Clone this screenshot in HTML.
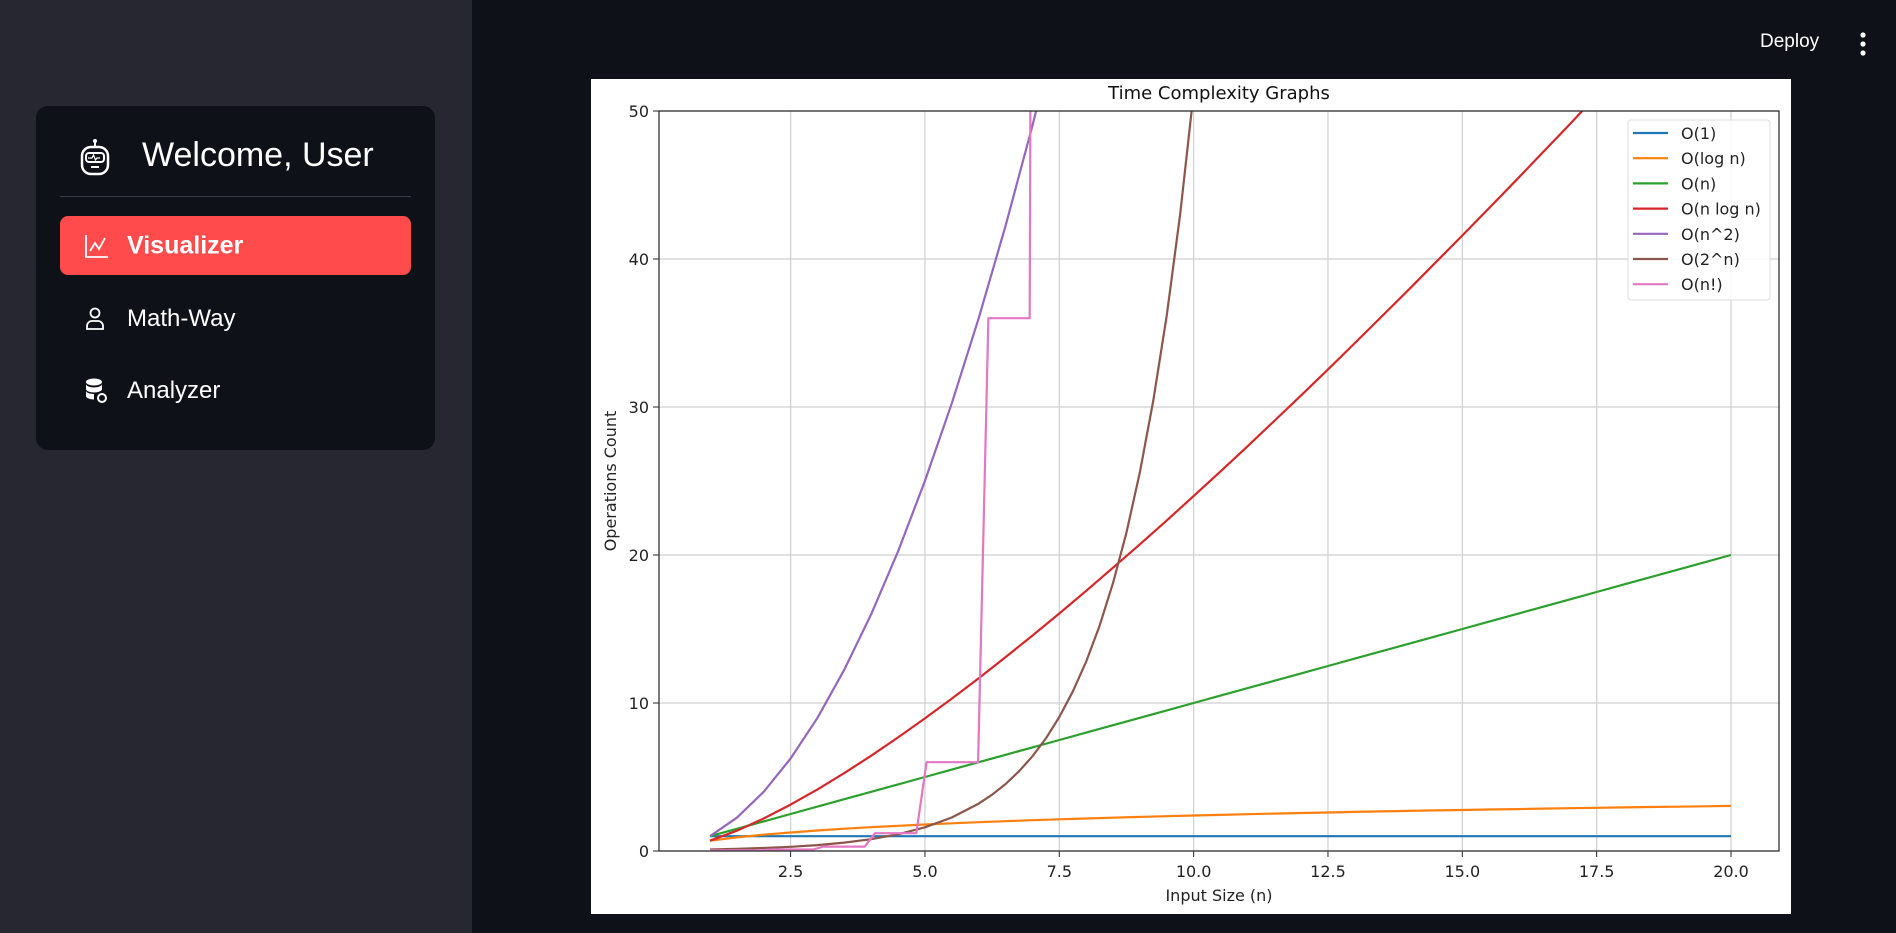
<!DOCTYPE html>
<html><head><meta charset="utf-8">
<style>
html,body{margin:0;padding:0;width:1896px;height:933px;overflow:hidden;background:#0e1118;font-family:"Liberation Sans",sans-serif;}
#sidebar{position:absolute;left:0;top:0;width:472px;height:933px;background:#262730;}
#card{position:absolute;left:36px;top:106px;width:399px;height:344px;background:#0e1118;border-radius:12px;}
.nav{position:absolute;left:24px;width:351px;height:59px;border-radius:8px;color:#fff;}
.nav span{position:absolute;left:67px;top:50%;transform:translateY(-50%);font-size:24px;}
.nav svg{position:absolute;left:24px;top:50%;transform:translateY(-50%);}
#chartbox{position:absolute;left:591px;top:79px;width:1200px;height:835px;background:#fff;}
</style></head><body>
<div id="sidebar">
 <div id="card">
  <svg style="position:absolute;left:42px;top:32px" width="34" height="40" viewBox="0 0 34 40"><circle cx="17" cy="3" r="2" fill="#fff"/><line x1="17" y1="4" x2="17" y2="9" stroke="#fff" stroke-width="2"/><rect x="4" y="9" width="26" height="27" rx="9" fill="none" stroke="#fff" stroke-width="2.5"/><rect x="8" y="15" width="18" height="9" rx="3" fill="none" stroke="#fff" stroke-width="2"/><path d="M10 20h4l1.5-3 2 5 1.5-2h3" stroke="#fff" fill="none" stroke-width="1.2"/><rect x="13" y="28" width="8" height="2" fill="#fff"/></svg>
  <div style="position:absolute;left:106px;top:30px;color:#fff;font-size:34px;">Welcome, User</div>
  <div style="position:absolute;left:24px;top:90px;width:351px;height:1px;background:#3a3b45"></div>
  <div class="nav" style="top:110px;background:#ff4b4b;"><svg width="26" height="26" viewBox="0 0 26 26"><path d="M2 2v22h22" stroke="#fff" fill="none" stroke-width="1.8"/><path d="M6 18l5-8 4 6 6-11" stroke="#fff" fill="none" stroke-width="1.8"/></svg><span style="font-weight:bold;font-size:25px;">Visualizer</span></div>
  <div class="nav" style="top:183px;"><svg width="22" height="24" viewBox="0 0 22 24"><circle cx="11" cy="6" r="4.5" stroke="#fff" fill="none" stroke-width="1.8"/><path d="M3 22v-3a5 5 0 0 1 5-5h6a5 5 0 0 1 5 5v3z" stroke="#fff" fill="none" stroke-width="1.8"/></svg><span>Math-Way</span></div>
  <div class="nav" style="top:255px;"><svg width="24" height="26" viewBox="0 0 24 26"><ellipse cx="10" cy="4" rx="8" ry="3.5" fill="#fff"/><path d="M2 6v5c0 2 4 3.5 8 3.5s8-1.5 8-3.5V6c0 2-4 3.5-8 3.5S2 8 2 6zM2 13v5c0 2 4 3.5 8 3.5V16c-4 0-8-1.5-8-3z" fill="#fff"/><circle cx="18" cy="20" r="4" stroke="#fff" fill="none" stroke-width="2"/></svg><span>Analyzer</span></div>
 </div>
</div>
<div style="position:absolute;left:1760px;top:31px;color:#fff;font-size:19px;">Deploy</div>
<svg style="position:absolute;left:1857px;top:31px" width="12" height="26"><circle cx="6" cy="4" r="2.6" fill="#fff"/><circle cx="6" cy="13" r="2.6" fill="#fff"/><circle cx="6" cy="22" r="2.6" fill="#fff"/></svg>
<div id="chartbox"></div>
<svg id="chart" style="position:absolute;left:0;top:0" width="1896" height="933"></svg>
<script>
const xTicks=[2.5,5.0,7.5,10.0,12.5,15.0,17.5,20.0];
const yTicks=[0,10,20,30,40,50];
const labels=["O(1)","O(log n)","O(n)","O(n log n)","O(n^2)","O(2^n)","O(n!)"];
const colors=["#1f77b4","#ff7f0e","#2ca02c","#d62728","#9467bd","#8c564b","#e377c2"];
const nHalf=[1,1.5,2,2.5,3,3.5,4,4.5,5,5.5,6,6.5,7,7.5,8,8.5,9,9.5,10,10.5,11,11.5,12,12.5,13,13.5,14,14.5,15,15.5,16,16.5,17,17.5,18,18.5,19,19.5,20];
const constY=[1,1,1,1,1,1,1,1,1,1,1,1,1,1,1,1,1,1,1,1,1,1,1,1,1,1,1,1,1,1,1,1,1,1,1,1,1,1,1];
const logY=[.693,.916,1.099,1.253,1.386,1.504,1.609,1.705,1.792,1.872,1.946,2.015,2.079,2.140,2.197,2.251,2.303,2.351,2.398,2.442,2.485,2.526,2.565,2.603,2.639,2.674,2.708,2.741,2.773,2.803,2.833,2.862,2.890,2.918,2.944,2.970,2.996,3.020,3.045];
const linY=[1,1.5,2,2.5,3,3.5,4,4.5,5,5.5,6,6.5,7,7.5,8,8.5,9,9.5,10,10.5,11,11.5,12,12.5,13,13.5,14,14.5,15,15.5,16,16.5,17,17.5,18,18.5,19,19.5,20];
const nlogY=[.693,1.374,2.197,3.133,4.159,5.264,6.438,7.673,8.959,10.296,11.676,13.098,14.556,16.050,17.579,19.140,20.723,22.337,23.979,25.647,27.339,29.053,30.787,32.543,34.320,36.113,37.922,39.749,41.590,43.447,45.316,47.210,49.102,51.058,52.974,54.946,56.949,58.9,60.9];
const sqN=[1,1.5,2,2.5,3,3.5,4,4.5,5,5.5,6,6.5,7,7.5];
const sqY=[1,2.25,4,6.25,9,12.25,16,20.25,25,30.25,36,42.25,49,56.25];
const expN=[1,1.5,2,2.5,3,3.5,4,4.5,5,5.5,6,6.25,6.5,6.75,7,7.25,7.5,7.75,8,8.25,8.5,8.75,9,9.25,9.5,9.75,10,10.25];
const expY=[.1,.141,.2,.283,.4,.566,.8,1.131,1.6,2.263,3.2,3.805,4.525,5.382,6.4,7.611,9.051,10.764,12.8,15.22,18.1,21.53,25.6,30.44,36.2,43.05,51.2,60.9];
const factN=[1,1.96,2.15,2.92,3.11,3.88,4.07,4.84,5.03,5.99,6.18,6.95,7.14];
const factY=[.05,.05,.1,.1,.3,.3,1.2,1.2,6,6,36,36,252];
const seriesX=[nHalf,nHalf,nHalf,nHalf,sqN,expN,factN];
const seriesY=[constY,logY,linY,nlogY,sqY,expY,factY];

const L=659,R=1779,T=111,B=851;
const X=v=>710+(v-1)*(1731-710)/19;
const Y=v=>B-v*(B-T)/50;
const svg=document.getElementById('chart');
const NS='http://www.w3.org/2000/svg';
function mk(tag,attrs,parent){const e=document.createElementNS(NS,tag);for(const k in attrs)e.setAttribute(k,attrs[k]);(parent||svg).appendChild(e);return e;}
const defs=mk('defs',{});
const cp=mk('clipPath',{id:'plotclip'},defs);mk('rect',{x:L,y:T,width:R-L,height:B-T},cp);
xTicks.forEach(t=>{const g=mk('line',{x1:X(t),x2:X(t),y1:T,y2:B,stroke:'#cfcfcf','stroke-width':1.2});


const tk=mk('line',{x1:X(t),x2:X(t),y1:B,y2:B+6,stroke:'#222','stroke-width':1});


const tx=mk('text',{x:X(t),y:B+26,'text-anchor':'middle','font-size':16,fill:'#222','font-family':'DejaVu Sans, sans-serif'});tx.textContent=t.toFixed(1);

});
yTicks.forEach(t=>{const g=mk('line',{x1:L,x2:R,y1:Y(t),y2:Y(t),stroke:'#cfcfcf','stroke-width':1.2});


const tk=mk('line',{x1:L-6,x2:L,y1:Y(t),y2:Y(t),stroke:'#222','stroke-width':1});


const tx=mk('text',{x:L-10,y:Y(t)+6,'text-anchor':'end','font-size':16,fill:'#222','font-family':'DejaVu Sans, sans-serif'});tx.textContent=String(t);

});
const g=mk('g',{'clip-path':'url(#plotclip)'});
seriesX.forEach((xs,i)=>{const d=xs.map((x,j)=>(j?'L':'M')+X(x).toFixed(1)+' '+Y(seriesY[i][j]).toFixed(1)).join(' ');
const p=mk('path',{d:d,fill:'none',stroke:colors[i],'stroke-width':2.2,'stroke-linejoin':'round'},g);

});
const fr=mk('rect',{x:L,y:T,width:R-L,height:B-T,fill:'none',stroke:'#333','stroke-width':1.3});


const title=mk('text',{x:(L+R)/2,y:99,'text-anchor':'middle','font-size':18,fill:'#111','font-family':'DejaVu Sans, sans-serif'});title.textContent='Time Complexity Graphs';


const xl=mk('text',{x:(L+R)/2,y:901,'text-anchor':'middle','font-size':16,fill:'#222','font-family':'DejaVu Sans, sans-serif'});xl.textContent='Input Size (n)';


const yl=mk('text',{x:0,y:0,'text-anchor':'middle','font-size':16,fill:'#222','font-family':'DejaVu Sans, sans-serif',transform:'translate(616,'+((T+B)/2)+') rotate(-90)'});yl.textContent='Operations Count';


const lg=mk('g',{});


mk('rect',{x:1628,y:120,width:142,height:180,rx:3,fill:'rgba(255,255,255,0.85)',stroke:'#ddd','stroke-width':1},lg);
labels.forEach((lab,i)=>{const y=133+i*25.2;
const ln=mk('line',{x1:1633,x2:1668,y1:y,y2:y,stroke:colors[i],'stroke-width':2.2},lg);


const t=mk('text',{x:1681,y:y+6,'font-size':16,fill:'#222','font-family':'DejaVu Sans, sans-serif'},lg);t.textContent=lab;

});
</script>
</body></html>
